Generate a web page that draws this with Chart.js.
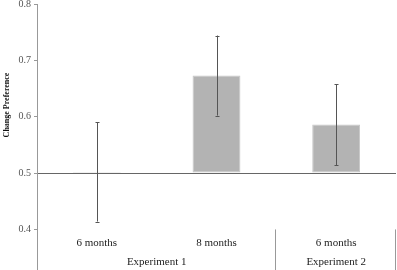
<!DOCTYPE html>
<html>
<head>
<meta charset="utf-8">
<script src="https://cdn.jsdelivr.net/npm/chart.js@4"></script>
<style>
  body { margin: 0; background: #fff; }
  #wrap { width: 397px; height: 270px; }
</style>
</head>
<body>
<div id="wrap"><canvas id="chart" width="397" height="270"></canvas></div>
<script>
// --- data ---
const categories = ['6 months', '8 months', '6 months'];
const groupNames = ['Experiment 1', 'Experiment 2'];
const groupStart = [0, 2];
const groupEnd = [1, 2];
const prefValues = [0.502, 0.673, 0.586];
const prefErrors = [0.088, 0.071, 0.072];
const yTicks = [0.4, 0.5, 0.6, 0.7, 0.8];

const serif = '"Liberation Serif", "Times New Roman", serif';

// error bars, category / group labels, separators, y title
const extras = {
    id: 'extras',
    afterDatasetsDraw(chart) {
        const ctx = chart.ctx;
        const x = chart.scales.x;
        const y = chart.scales.y;
        const area = chart.chartArea;

        ctx.save();
        // error bars
        ctx.strokeStyle = '#555';
        ctx.lineWidth = 1;
        prefValues.forEach((v, i) => {
            const px = Math.round(x.getPixelForValue(i)) + 0.5;
            const top = y.getPixelForValue(v + prefErrors[i]);
            const bot = y.getPixelForValue(v - prefErrors[i]);
            ctx.beginPath();
            ctx.moveTo(px, top); ctx.lineTo(px, bot);
            ctx.moveTo(px - 2, Math.round(top) + 0.5); ctx.lineTo(px + 2, Math.round(top) + 0.5);
            ctx.moveTo(px - 2, Math.round(bot) + 0.5); ctx.lineTo(px + 2, Math.round(bot) + 0.5);
            ctx.stroke();
        });

        // month labels
        ctx.fillStyle = '#222';
        ctx.font = '11px ' + serif;
        ctx.textAlign = 'center';
        ctx.textBaseline = 'middle';
        categories.forEach((c, i) => {
            ctx.fillText(c, x.getPixelForValue(i), 243);
        });

        // experiment labels
        const half = (x.getPixelForValue(1) - x.getPixelForValue(0)) / 2;
        groupNames.forEach((g, k) => {
            const cx = (x.getPixelForValue(groupStart[k]) + x.getPixelForValue(groupEnd[k])) / 2;
            ctx.fillText(g, cx, 262);
        });

        // separators after each group
        ctx.strokeStyle = '#999';
        const sepTop = y.getPixelForValue(0.4);
        groupEnd.forEach(e => {
            const sx = Math.min(Math.round(x.getPixelForValue(e) + half) - 0.5, area.right - 0.5);
            ctx.beginPath();
            ctx.moveTo(sx, sepTop);
            ctx.lineTo(sx, chart.height);
            ctx.stroke();
        });

        // y axis title
        ctx.translate(7, 105);
        ctx.rotate(-Math.PI / 2);
        ctx.font = 'bold 8px ' + serif;
        ctx.fillStyle = '#111';
        ctx.fillText('Change Preference', 0, 0);
        ctx.restore();
    }
};

new Chart(document.getElementById('chart'), {
    type: 'bar',
    data: {
        labels: categories,
        datasets: [{
            label: 'Change Preference',
            data: prefValues,
            base: 0.5,
            backgroundColor: '#b3b3b3',
            borderColor: '#c6c6c6',
            borderWidth: 1,
            borderSkipped: false,
            categoryPercentage: 1,
            barPercentage: 0.4
        }]
    },
    options: {
        responsive: false,
        animation: false,
        layout: { padding: { top: 4, right: 1, left: 0, bottom: 0 } },
        plugins: {
            legend: { display: false },
            tooltip: { enabled: false }
        },
        scales: {
            x: { display: false },
            y: {
                min: 0.328,
                max: 0.8,
                afterBuildTicks: scale => {
                    scale.ticks = yTicks.map(v => ({ value: v }));
                },
                afterFit: scale => {
                    scale.width = 37;
                    scale.paddingTop = 0;
                    scale.paddingBottom = 0;
                },
                border: { display: true, color: '#999', width: 1 },
                grid: {
                    drawOnChartArea: true,
                    color: c => (c.tick && c.tick.value === 0.5) ? '#666' : 'rgba(0,0,0,0)',
                    tickColor: '#999',
                    tickLength: 3
                },
                ticks: {
                    padding: 3,
                    color: '#555',
                    font: { family: serif, size: 10 },
                    callback: v => v.toFixed(1)
                }
            }
        }
    },
    plugins: [extras]
});
</script>
</body>
</html>
